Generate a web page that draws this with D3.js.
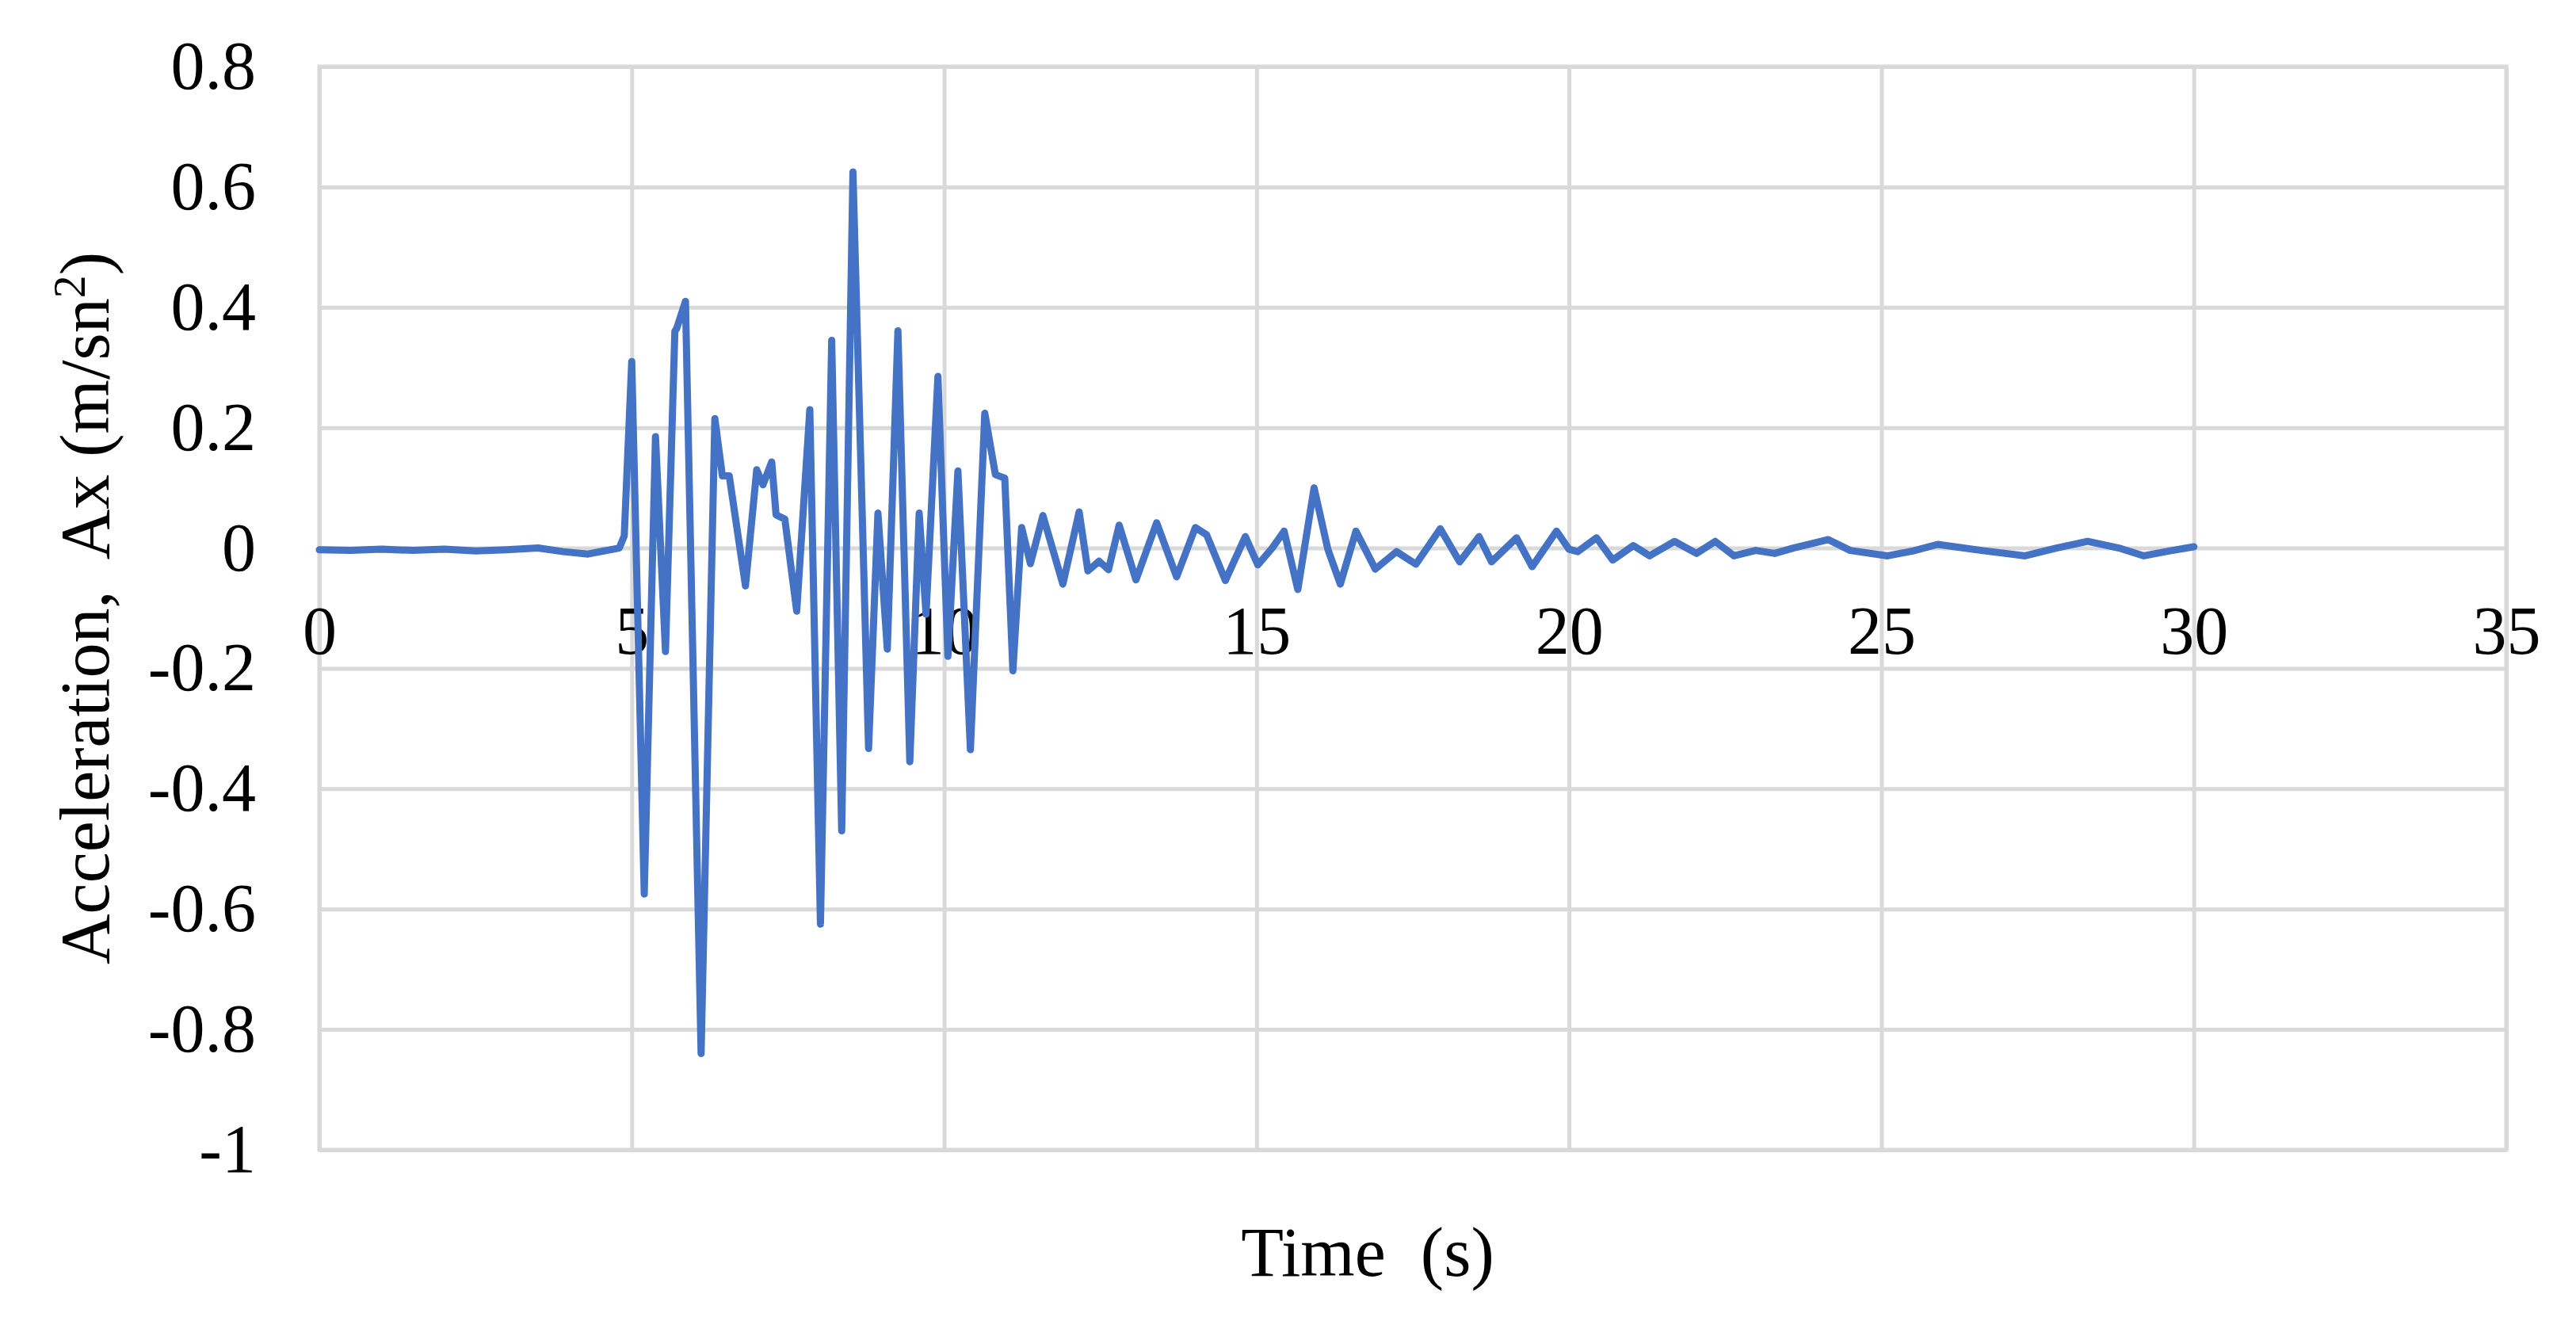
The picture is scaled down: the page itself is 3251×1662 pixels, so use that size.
<!DOCTYPE html>
<html>
<head>
<meta charset="utf-8">
<script src="https://cdn.jsdelivr.net/npm/d3@7"></script>
<style>
  body { margin: 0; background: #fff; }
  text { font-family: "Liberation Serif", "Times New Roman", serif; fill: #000; }
</style>
</head>
<body>
<div id="chart-area"></div>
<script>
// time (s) and acceleration Ax (m/sn2)
var times = [0, 0.5, 1.0, 1.5, 2.0, 2.5, 3.0, 3.5, 3.9, 4.3, 4.6, 4.8, 4.88,
  5.0, 5.2, 5.38, 5.54, 5.69, 5.72, 5.86, 6.11, 6.33, 6.45, 6.56, 6.82, 7.0, 7.1, 7.24, 7.31, 7.45, 7.64,
  7.85, 8.02, 8.2, 8.36, 8.54, 8.79, 8.94, 9.09, 9.26, 9.45, 9.6, 9.71, 9.9, 10.06, 10.22, 10.42,
  10.65, 10.82, 10.97, 11.1, 11.24, 11.38, 11.58, 11.9, 12.16, 12.3, 12.48, 12.63, 12.8, 13.07,
  13.4, 13.72, 14.02, 14.2, 14.5, 14.82, 15.02, 15.25, 15.44, 15.66, 15.92, 16.14, 16.34, 16.59,
  16.9, 17.24, 17.55, 17.94, 18.25, 18.56, 18.76, 19.16, 19.41, 19.8, 20.0, 20.14, 20.44, 20.7,
  21.03, 21.29, 21.69, 22.04, 22.34, 22.64, 22.99, 23.29, 23.59, 24.15, 24.5, 25.1, 25.5, 25.9,
  26.6, 27.3, 27.8, 28.3, 28.8, 29.2, 29.6, 30.0]
var accel = [-0.003, -0.004, -0.002, -0.004, -0.002, -0.005, -0.003, 0.0, -0.006, -0.01, -0.004, 0.0, 0.02,
  0.31, -0.575, 0.185, -0.172, 0.36, 0.365, 0.41, -0.84, 0.215, 0.12, 0.12, -0.063, 0.13, 0.105, 0.143, 0.055, 0.048, -0.105,
  0.23, -0.625, 0.345, -0.47, 0.625, -0.333, 0.058, -0.168, 0.361, -0.355, 0.058, -0.11, 0.285, -0.18, 0.128, -0.335,
  0.224, 0.122, 0.116, -0.204, 0.034, -0.026, 0.054, -0.06, 0.06, -0.038, -0.022, -0.036, 0.038, -0.053,
  0.042, -0.048, 0.034, 0.022, -0.054, 0.019, -0.028, 0.0, 0.028, -0.069, 0.10, -0.002, -0.06, 0.028,
  -0.035, -0.006, -0.027, 0.032, -0.023, 0.019, -0.023, 0.017, -0.031, 0.028, -0.002, -0.006, 0.017, -0.02,
  0.004, -0.013, 0.011, -0.009, 0.011, -0.013, -0.004, -0.009, 0.0, 0.014, -0.004, -0.013, -0.005, 0.006,
  -0.004, -0.013, 0.0, 0.011, 0.0, -0.013, -0.005, 0.002]

var xTicks = [0, 5, 10, 15, 20, 25, 30, 35]
var yTicks = [-1, -0.8, -0.6, -0.4, -0.2, 0, 0.2, 0.4, 0.6, 0.8]
var xTitle = "Time  (s)"
var yTitle = "Acceleration,  Ax (m/sn"

var margin = {top: 84, right: 88, bottom: 211, left: 403}
var totalW = 3251
var totalH = 1662
var width = totalW - margin.left - margin.right
var height = totalH - margin.top - margin.bottom

var svg = d3.select("#chart-area")
  .append("svg")
  .attr("width", totalW)
  .attr("height", totalH)

svg.append("rect").attr("width", totalW).attr("height", totalH).attr("fill", "#fff")

var g = svg.append("g")
  .attr("transform", `translate(${margin.left}, ${margin.top})`)

var x = d3.scaleLinear().domain([0, 35]).range([0, width])
var y = d3.scaleLinear().domain([-1, 0.8]).range([height, 0])

// gridlines
g.append("g")
  .attr("class", "grid y")
  .call(d3.axisLeft(y).tickValues(yTicks).tickSize(-width).tickFormat(""))
  .call(s => s.select(".domain").remove())
  .selectAll("line").attr("stroke", "#d9d9d9").attr("stroke-width", 5)

g.append("g")
  .attr("class", "grid x")
  .attr("transform", `translate(0, ${height})`)
  .call(d3.axisBottom(x).tickValues(xTicks).tickSize(-height).tickFormat(""))
  .call(s => s.select(".domain").remove())
  .selectAll("line").attr("stroke", "#d9d9d9").attr("stroke-width", 5)

g.append("rect")
  .attr("width", width)
  .attr("height", height)
  .attr("fill", "none")
  .attr("stroke", "#d9d9d9")
  .attr("stroke-width", 5)

// tick labels (plain hyphen for negatives, as in the original)
var leftAxis = d3.axisLeft(y).tickValues(yTicks).tickSize(0).tickPadding(80)
  .tickFormat(d => String(+d.toFixed(1)))
g.append("g").attr("class", "left axis").call(leftAxis)
  .call(s => s.select(".domain").remove())
  .selectAll("text").attr("font-size", "86px").style("font-family", "Liberation Serif")

var bottomAxis = d3.axisBottom(x).tickValues(xTicks).tickSize(0).tickPadding(72)
  .tickFormat(d => String(d))
g.append("g").attr("class", "bottom axis")
  .attr("transform", `translate(0, ${y(0)})`)
  .call(bottomAxis)
  .call(s => s.select(".domain").remove())
  .selectAll("text").attr("font-size", "86px").style("font-family", "Liberation Serif")

// series
var line = d3.line()
  .x((d, i) => x(times[i]))
  .y(d => y(d))

g.append("path")
  .datum(accel)
  .attr("fill", "none")
  .attr("stroke", "#4472c4")
  .attr("stroke-width", 9)
  .attr("stroke-linejoin", "round")
  .attr("stroke-linecap", "round")
  .attr("d", line)

// titles
svg.append("text")
  .attr("x", 1726)
  .attr("y", 1610)
  .attr("font-size", "88px")
  .attr("text-anchor", "middle")
  .style("white-space", "pre")
  .text(xTitle)

var yt = svg.append("text")
  .attr("transform", `translate(137, ${margin.top + y(-0.1)}) rotate(-90)`)
  .attr("font-size", "88px")
  .attr("text-anchor", "middle")
  .style("white-space", "pre")
yt.append("tspan").text(yTitle)
yt.append("tspan").attr("font-size", "58px").attr("dy", "-30").text("2")
yt.append("tspan").attr("dy", "30").text(")")
</script>
</body>
</html>
